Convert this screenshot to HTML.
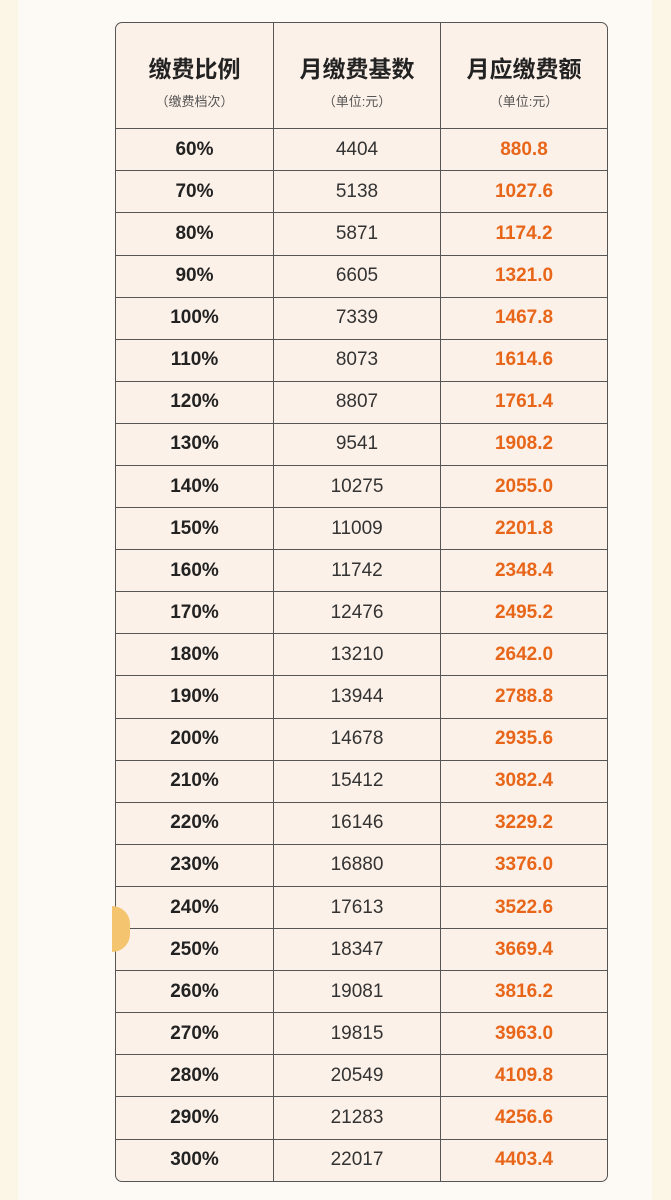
<!DOCTYPE html>
<html><head><meta charset="utf-8"><style>
html,body{margin:0;padding:0}
body{width:671px;height:1200px;background:#fbf6e6;position:relative;overflow:hidden;font-family:"Liberation Sans","Noto Sans CJK SC",sans-serif}
.inner{position:absolute;left:18px;top:0;width:634px;height:1200px;background:#fdfaf6}
table{position:absolute;left:115px;top:22px;width:493px;height:1160px;border-collapse:separate;border-spacing:0;border:1.5px solid #555;border-radius:7px;background:#fcf1e8;overflow:hidden}
td{border-right:1px solid #555;border-bottom:1px solid #555;text-align:center;padding:0;color:#222}
td:last-child{border-right:none}
tr:last-child td{border-bottom:none}
col.a{width:158px}col.b{width:167px}
.h td{height:105px}
.h b{display:block;font-size:23px;font-weight:bold;color:#222;margin-top:8px}
.h span{display:block;font-size:13px;color:#555;margin-top:7px}
.r td{height:41px;font-size:19px}
.r td:first-child{font-weight:bold}
.r td:nth-child(2){color:#333}
.r td:last-child{color:#e8661a;font-weight:bold}
</style></head><body><div class="inner"></div>
<table><col class="a"><col class="b"><col>
<tr class="h"><td><b>缴费比例</b><span>（缴费档次）</span></td><td><b>月缴费基数</b><span>（单位:元）</span></td><td><b>月应缴费额</b><span>（单位:元）</span></td></tr>
<tr class="r"><td>60%</td><td>4404</td><td>880.8</td></tr>
<tr class="r"><td>70%</td><td>5138</td><td>1027.6</td></tr>
<tr class="r"><td>80%</td><td>5871</td><td>1174.2</td></tr>
<tr class="r"><td>90%</td><td>6605</td><td>1321.0</td></tr>
<tr class="r"><td>100%</td><td>7339</td><td>1467.8</td></tr>
<tr class="r"><td>110%</td><td>8073</td><td>1614.6</td></tr>
<tr class="r"><td>120%</td><td>8807</td><td>1761.4</td></tr>
<tr class="r"><td>130%</td><td>9541</td><td>1908.2</td></tr>
<tr class="r"><td>140%</td><td>10275</td><td>2055.0</td></tr>
<tr class="r"><td>150%</td><td>11009</td><td>2201.8</td></tr>
<tr class="r"><td>160%</td><td>11742</td><td>2348.4</td></tr>
<tr class="r"><td>170%</td><td>12476</td><td>2495.2</td></tr>
<tr class="r"><td>180%</td><td>13210</td><td>2642.0</td></tr>
<tr class="r"><td>190%</td><td>13944</td><td>2788.8</td></tr>
<tr class="r"><td>200%</td><td>14678</td><td>2935.6</td></tr>
<tr class="r"><td>210%</td><td>15412</td><td>3082.4</td></tr>
<tr class="r"><td>220%</td><td>16146</td><td>3229.2</td></tr>
<tr class="r"><td>230%</td><td>16880</td><td>3376.0</td></tr>
<tr class="r"><td>240%</td><td>17613</td><td>3522.6</td></tr>
<tr class="r"><td>250%</td><td>18347</td><td>3669.4</td></tr>
<tr class="r"><td>260%</td><td>19081</td><td>3816.2</td></tr>
<tr class="r"><td>270%</td><td>19815</td><td>3963.0</td></tr>
<tr class="r"><td>280%</td><td>20549</td><td>4109.8</td></tr>
<tr class="r"><td>290%</td><td>21283</td><td>4256.6</td></tr>
<tr class="r"><td>300%</td><td>22017</td><td>4403.4</td></tr>
</table>
<div style="position:absolute;left:112px;top:906px;width:18px;height:46px;border-radius:0 23px 23px 0;background:#f5c46e"></div>
</body></html>
